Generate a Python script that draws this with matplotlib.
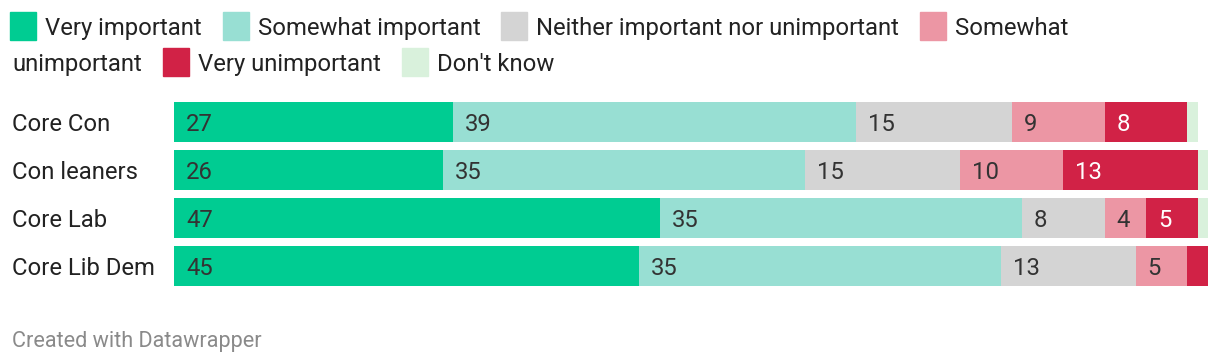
import matplotlib
matplotlib.use("Agg")
import matplotlib.pyplot as plt
from matplotlib.patches import Rectangle
from matplotlib.transforms import blended_transform_factory

plt.rcParams['font.family'] = ['Roboto', 'DejaVu Sans']

# data
groups = ['Core Con', 'Con leaners', 'Core Lab', 'Core Lib Dem']
answers = ['Very important', 'Somewhat important', 'Neither important nor unimportant',
           'Somewhat unimportant', 'Very unimportant', "Don't know"]
very_important = [27, 26, 47, 45]
somewhat_important = [39, 35, 35, 35]
neither = [15, 15, 8, 13]
somewhat_unimportant = [9, 10, 4, 5]
very_unimportant = [8, 13, 5, 2]
dont_know = [1, 1, 1, 0]

colors = ['#00cc92', '#98dfd3', '#d4d4d4', '#ec96a4', '#d12246', '#d9f1dc']
label_colors = ['#333333', '#333333', '#333333', '#333333', '#ffffff', '#333333']

FS = 17.2
W, H = 1220, 364
fig = plt.figure(figsize=(W / 100, H / 100), dpi=100)

def px(x, y):
    # figure pixel (from top-left) -> figure fraction
    return x / W, 1 - y / H

# bar area
ax_left, ax_right, ax_top, ax_bot = 174, 1208, 98, 290
ax = fig.add_axes([ax_left / W, 1 - ax_bot / H, (ax_right - ax_left) / W, (ax_bot - ax_top) / H])

series = [very_important, somewhat_important, neither, somewhat_unimportant, very_unimportant, dont_know]
ypos = list(range(len(groups)))
left = [0] * len(groups)
px_per_unit = (ax_right - ax_left) / 100
for vals, col, lcol in zip(series, colors, label_colors):
    ax.barh(ypos, vals, left=left, height=40 / 48, color=col, linewidth=0)
    for i, v in enumerate(vals):
        if v >= 3:
            ax.text(left[i] + 12 / px_per_unit, i, str(v), ha='left', va='center_baseline',
                    fontsize=FS, color=lcol)
    left = [a + b for a, b in zip(left, vals)]

ax.set_xlim(0, 100)
ax.set_ylim(len(groups) - 0.5, -0.5)
ax.axis('off')

trans = blended_transform_factory(fig.transFigure, ax.transData)
for i, g in enumerate(groups):
    ax.text(12 / W, i, g, transform=trans, ha='left', va='center_baseline', fontsize=FS,
            color='#222222')

# legend, laid out as flowing text that wraps
renderer = fig.canvas.get_renderer()
def text_w(s):
    t = fig.text(0, 0, s, fontsize=FS)
    w = t.get_window_extent(renderer).width
    t.remove()
    return w

rows_y = [26, 62]
sq = 26
x, row = 10, 0
max_x = 1190
for name, col in zip(answers, colors):
    if x + sq + 9 + text_w(name.split(' ')[0]) > max_x:
        row += 1
        x = 12
    fig.patches.append(Rectangle(px(x, rows_y[row] + 14), sq / W, 28 / H,
                                 transform=fig.transFigure, color=col, figure=fig))
    x += sq + 9
    words = name.split(' ')
    line = ''
    for w in words:
        trial = (line + ' ' + w).strip()
        if x + text_w(trial) > max_x and line:
            fig.text(*px(x, rows_y[row]), line, fontsize=FS, color='#222222', va='center_baseline')
            row += 1
            x = 12
            line = w
        else:
            line = trial
    fig.text(*px(x, rows_y[row]), line, fontsize=FS, color='#222222', va='center_baseline')
    x += text_w(line) + 21

fig.text(*px(12, 339), 'Created with Datawrapper', fontsize=15.6, color='#8a8a8a',
         va='center_baseline')

fig.savefig('out.png', dpi=100, facecolor='white')
